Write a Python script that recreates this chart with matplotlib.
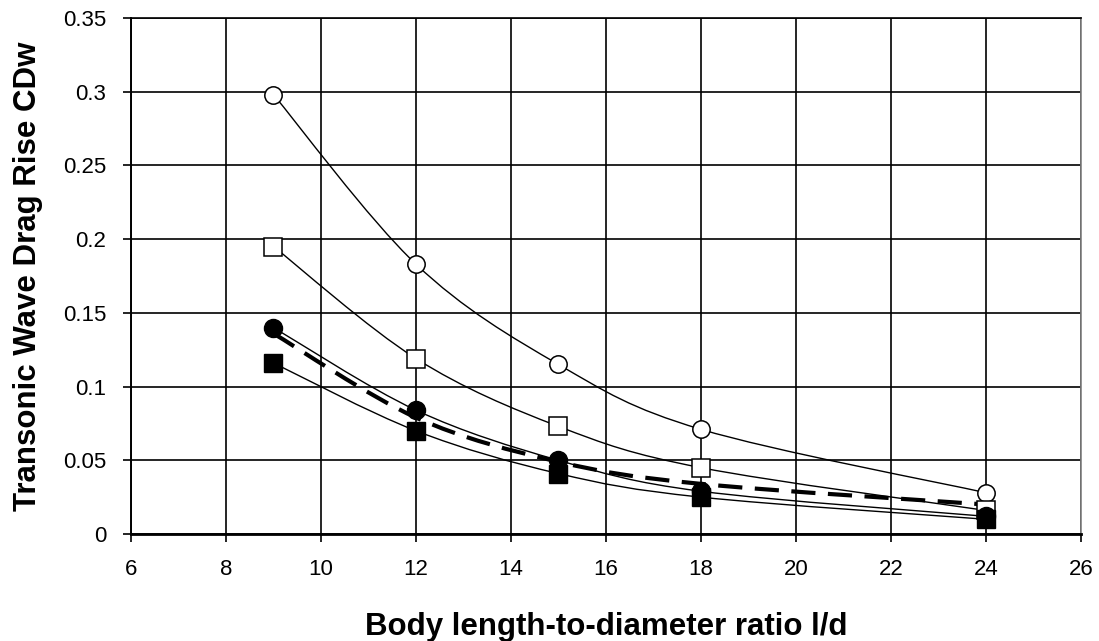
import numpy as np
import matplotlib
matplotlib.use("Agg")
import matplotlib.pyplot as plt
from matplotlib.path import Path
from matplotlib.patches import PathPatch
from matplotlib.ticker import MultipleLocator, FuncFormatter

plt.rcParams['font.family'] = ['Liberation Sans', 'DejaVu Sans']

# data
ld = [9, 12, 15, 18, 24]
open_circle = [0.298, 0.183, 0.115, 0.071, 0.028]
open_square = [0.195, 0.119, 0.073, 0.045, 0.016]
filled_circle = [0.140, 0.084, 0.050, 0.029, 0.012]
filled_square = [0.116, 0.070, 0.041, 0.025, 0.010]
dashed = [0.136, 0.079, 0.049, 0.034, 0.020]

x_ticks = [6, 8, 10, 12, 14, 16, 18, 20, 22, 24, 26]


def smooth_path(x, y):
    # excel style smoothed line, cubic bezier segments through the points
    pts = np.column_stack([x, y]).astype(float)
    n = len(pts)
    verts = [pts[0]]
    codes = [Path.MOVETO]
    for i in range(n - 1):
        p0 = pts[max(i - 1, 0)]
        p1 = pts[i]
        p2 = pts[i + 1]
        p3 = pts[min(i + 2, n - 1)]
        verts += [p1 + (p2 - p0) / 6.0, p2 - (p3 - p1) / 6.0, p2]
        codes += [Path.CURVE4] * 3
    return Path(verts, codes)


fig = plt.figure(figsize=(10.99, 6.41), dpi=100)
ax = fig.add_axes([0.1192, 0.1669, 0.8644, 0.805])

ax.set_xlim(6, 26)
ax.set_ylim(0, 0.35)

for ys in [open_circle, open_square, filled_circle, filled_square]:
    ax.add_patch(PathPatch(smooth_path(ld, ys), fill=False, edgecolor="black",
                           lw=1.0, zorder=2))
ax.add_patch(PathPatch(smooth_path(ld, dashed), fill=False, edgecolor="black",
                       lw=3.0, linestyle=(0, (5.8, 3.0)), zorder=3))

ax.plot(ld, open_circle, "o", ms=12.5, mfc="white", mec="black", mew=1.1, zorder=4)
ax.plot(ld, open_square, "s", ms=12.5, mfc="white", mec="black", mew=1.1, zorder=4)
ax.plot(ld, filled_circle, "o", ms=13, mfc="black", mec="black", mew=1.0, zorder=5)
ax.plot(ld, filled_square, "s", ms=13, mfc="black", mec="black", mew=1.0, zorder=5)

ax.set_xticks(x_ticks)
ax.yaxis.set_major_locator(MultipleLocator(0.05))
ax.yaxis.set_major_formatter(FuncFormatter(lambda v, p: "%g" % round(v, 3)))
ax.grid(True, color="black", lw=1.2, zorder=1)
ax.set_axisbelow(True)

ax.tick_params(direction="out", length=6, width=1.2, pad=12, labelsize=16,
               colors="black")
for side in ["left", "top", "bottom"]:
    ax.spines[side].set_color("black")
ax.spines["left"].set_linewidth(1.4)
ax.spines["bottom"].set_linewidth(2.0)
ax.spines["top"].set_linewidth(1.2)
ax.spines["right"].set_color("#808080")
ax.spines["right"].set_linewidth(1.2)

ax.set_xlabel("Body length-to-diameter ratio l/d", fontsize=22.5,
              fontweight="bold", va="baseline")
ax.xaxis.set_label_coords(0.5, -0.1957)
ax.set_ylabel("Transonic Wave Drag Rise CDw", fontsize=22.5,
              fontweight="bold", va="baseline")
ax.yaxis.set_label_coords(-0.1, 0.5)

fig.savefig("out.png", dpi=100)
